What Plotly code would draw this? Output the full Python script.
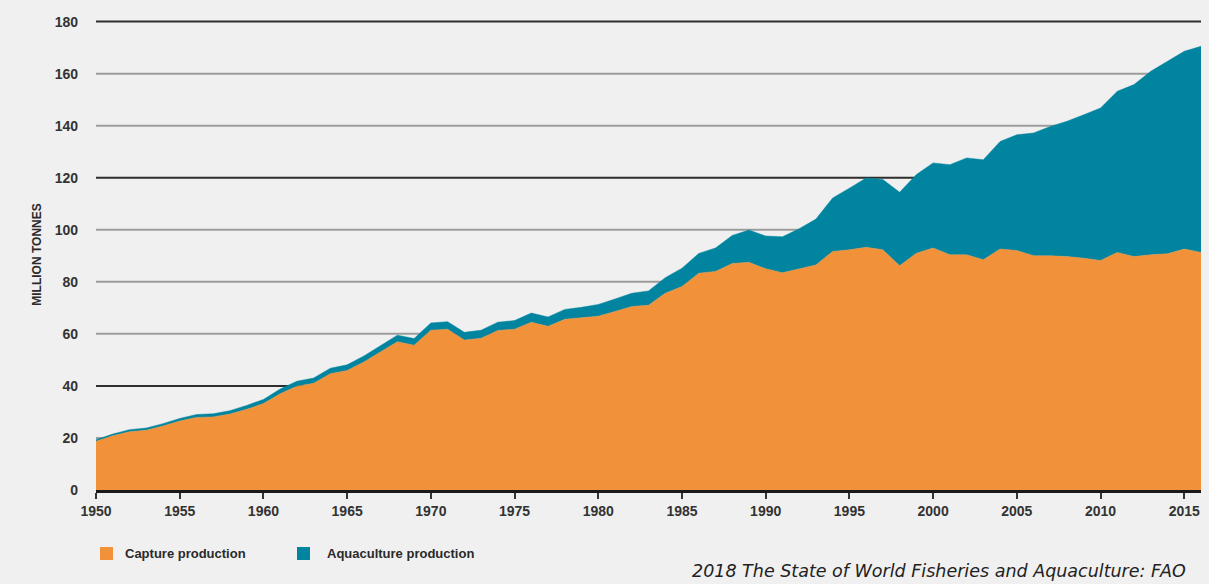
import plotly.graph_objects as go

years = list(range(1950, 2017))

capture = [18.7, 20.8, 22.4, 23.0, 24.6, 26.5, 27.9, 28.1, 29.2, 31.0,
           33.2, 37.0, 39.9, 41.0, 44.7, 45.9, 49.2, 53.1, 57.0, 55.6,
           61.4, 61.8, 57.6, 58.3, 61.3, 61.8, 64.5, 62.9, 65.6, 66.2,
           66.8, 68.6, 70.5, 71.0, 75.6, 78.2, 83.3, 84.0, 87.0, 87.5,
           85.0, 83.5, 84.9, 86.5, 91.7, 92.3, 93.3, 92.3, 86.2, 91.0,
           93.0, 90.4, 90.4, 88.5, 92.6, 92.0, 90.0, 90.0, 89.7, 89.1,
           88.2, 91.3, 89.7, 90.4, 90.8, 92.6, 91.3]

aquaculture = [0.6, 0.7, 0.8, 0.8, 0.9, 1.0, 1.1, 1.2, 1.3, 1.5,
               1.6, 1.8, 1.9, 2.0, 2.1, 2.2, 2.3, 2.4, 2.5, 2.6,
               2.8, 2.9, 3.0, 3.1, 3.2, 3.3, 3.5, 3.6, 3.8, 4.0,
               4.5, 4.8, 5.1, 5.5, 6.0, 7.0, 7.6, 9.0, 10.8, 12.4,
               12.6, 13.8, 15.5, 17.6, 20.5, 23.7, 26.6, 27.0, 28.2, 30.2,
               32.7, 34.6, 37.2, 38.4, 41.3, 44.5, 47.2, 49.7, 52.0, 55.1,
               58.6, 61.9, 66.1, 70.5, 73.9, 76.0, 79.2]

y_ticks = [0, 20, 40, 60, 80, 100, 120, 140, 160, 180]
dark_grid = [40, 120, 180]
light_grid = [20, 60, 80, 100, 140, 160]
x_ticks = list(range(1950, 2016, 5))

series_names = ["Capture production", "Aquaculture production"]
y_title = "MILLION TONNES"
caption = "2018 The State of World Fisheries and Aquaculture: FAO"

orange = "#F1923A"
teal = "#00849F"
bg = "#F0F0F0"
label_font = "Liberation Sans, Arial, sans-serif"

W, H = 1209, 584
ML, MR, MT, MB = 96, 8, 19, 94
PW, PH = W - ML - MR, H - MT - MB


def px_x(px):
    return (px - ML) / PW


def px_y(py):
    return (H - MB - py) / PH


fig = go.Figure()
fig.add_trace(go.Scatter(x=years, y=capture, stackgroup="one", mode="lines",
                         line=dict(width=0.5, color=orange), fillcolor=orange,
                         name=series_names[0], showlegend=False))
fig.add_trace(go.Scatter(x=years, y=aquaculture, stackgroup="one", mode="lines",
                         line=dict(width=0.5, color=teal), fillcolor=teal,
                         name=series_names[1], showlegend=False))

shapes = []
for v in light_grid:
    shapes.append(dict(type="line", xref="paper", x0=0, x1=1, yref="y", y0=v, y1=v,
                       line=dict(color="#9C9C9C", width=2), layer="below"))
for v in dark_grid:
    shapes.append(dict(type="line", xref="paper", x0=0, x1=1, yref="y", y0=v, y1=v,
                       line=dict(color="#2E2E2E", width=2), layer="below"))

annotations = []
# manual legend
legend_items = [(series_names[0], orange, 100, 123), (series_names[1], teal, 297, 325)]
for nm, col, sq_x, tx_x in legend_items:
    shapes.append(dict(type="rect", xref="paper", yref="paper",
                       x0=px_x(sq_x), x1=px_x(sq_x + 13), y0=px_y(560), y1=px_y(547),
                       fillcolor=col, line=dict(width=0)))
    annotations.append(dict(text=nm, xref="paper", yref="paper", x=px_x(tx_x), y=px_y(553.5),
                            xanchor="left", yanchor="middle", showarrow=False,
                            font=dict(family=label_font, size=13, color="#2A2A2A", weight="bold")))

annotations.append(dict(text="<i>" + caption + "</i>", xref="paper", yref="paper",
                        x=px_x(690), y=px_y(571), xanchor="left", yanchor="middle",
                        showarrow=False,
                        font=dict(family="DejaVu Sans, sans-serif", size=17.5, color="#222222")))

fig.update_layout(
    width=W, height=H, autosize=False,
    margin=dict(l=ML, r=MR, t=MT, b=MB, autoexpand=False),
    paper_bgcolor=bg, plot_bgcolor=bg,
    shapes=shapes, annotations=annotations,
    showlegend=False,
    xaxis=dict(range=[1950, 2016], tickvals=x_ticks, ticktext=[str(t) for t in x_ticks],
               automargin=False,
               showgrid=False, zeroline=False, showline=True, linecolor="#1A1A1A",
               linewidth=2.5, ticks="outside", ticklen=6, tickwidth=1.5, tickcolor="#333333",
               tickfont=dict(family=label_font, size=14, color="#333333", weight="bold")),
    yaxis=dict(range=[0, 181], tickvals=y_ticks, showgrid=False, zeroline=False,
               automargin=False,
               showline=False, ticks="", ticklabelstandoff=17,
               tickfont=dict(family=label_font, size=14, color="#333333", weight="bold"),
               title=dict(text=y_title, standoff=10,
                          font=dict(family=label_font, size=12, color="#2A2A2A", weight="bold"))),
)

fig.write_html("out.html",
               config={"displayModeBar": False},
               post_script="document.body.style.margin='0';document.body.style.background='#F0F0F0';")
